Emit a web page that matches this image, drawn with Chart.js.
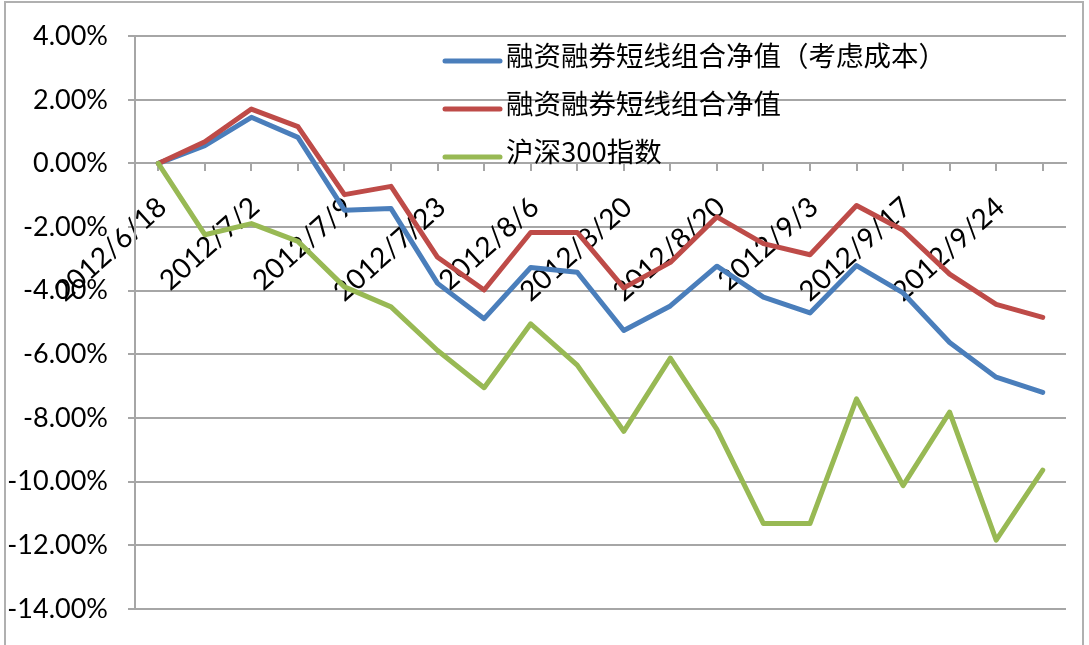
<!DOCTYPE html>
<html>
<head>
<meta charset="utf-8">
<script src="https://cdn.jsdelivr.net/npm/chart.js@4/dist/chart.umd.min.js"></script>
<style>
    body { margin: 0; background: #fff; }
    #wrap { width: 1089px; height: 645px; position: relative; }
</style>
</head>
<body>
<div id="wrap"><canvas id="navChart"></canvas></div>
<script>
// 日期（每隔一个显示）
const categories = ['2012/6/18', '2012/6/25', '2012/7/2', '2012/7/6', '2012/7/9', '2012/7/16',
    '2012/7/23', '2012/7/30', '2012/8/6', '2012/8/13', '2012/8/20', '2012/8/20', '2012/8/20',
    '2012/8/27', '2012/9/3', '2012/9/10', '2012/9/17', '2012/9/21', '2012/9/24', '2012/9/28'];

const seriesNames = ['融资融券短线组合净值（考虑成本）', '融资融券短线组合净值', '沪深300指数'];

// 单位：%
const navWithCost = [0, 0.56, 1.45, 0.82, -1.47, -1.42, -3.77, -4.88, -3.27, -3.42,
    -5.25, -4.48, -3.23, -4.20, -4.70, -3.21, -4.07, -5.63, -6.72, -7.20];
const navNoCost = [0, 0.68, 1.71, 1.16, -0.98, -0.72, -2.95, -3.98, -2.17, -2.17,
    -3.91, -3.11, -1.68, -2.52, -2.87, -1.32, -2.10, -3.48, -4.43, -4.84];
const hs300 = [0, -2.24, -1.89, -2.45, -3.88, -4.51, -5.88, -7.05, -5.04, -6.34,
    -8.42, -6.12, -8.36, -11.32, -11.32, -7.40, -10.13, -7.82, -11.84, -9.64];

const yTicks = [4, 2, 0, -2, -4, -6, -8, -10, -12, -14];

const colors = ['#4a7ebb', '#be4b48', '#98b954'];
const gridColor = '#a6a6a6';

Chart.defaults.font.family = 'Lato, "Noto Sans CJK SC", sans-serif';
Chart.defaults.color = '#000';

// 外框
const framePlugin = {
    id: 'frame',
    beforeDraw(chart) {
        const ctx = chart.ctx;
        ctx.save();
        ctx.fillStyle = '#fff';
        ctx.fillRect(0, 0, chart.width, chart.height);
        ctx.strokeStyle = '#b0b0b0';
        ctx.lineWidth = 2;
        ctx.strokeRect(5, 2, 1078, 700);
        ctx.restore();
    }
};

// 图内图例
const legendPlugin = {
    id: 'innerLegend',
    afterDraw(chart) {
        const ctx = chart.ctx;
        ctx.save();
        ctx.font = '27.5px "Noto Sans CJK SC", sans-serif';
        ctx.textBaseline = 'middle';
        ctx.lineCap = 'round';
        seriesNames.forEach((name, i) => {
            const y = 61 + i * 48;
            ctx.strokeStyle = colors[i];
            ctx.lineWidth = 5;
            ctx.beginPath();
            ctx.moveTo(445, y);
            ctx.lineTo(500, y);
            ctx.stroke();
            ctx.fillStyle = '#000';
            ctx.fillText(name, 506, y - 5);
        });
        ctx.restore();
    }
};

const makeSet = (label, data, color, order) => ({
    label: label,
    data: data,
    borderColor: color,
    backgroundColor: color,
    borderWidth: 5,
    pointRadius: 0,
    borderCapStyle: 'round',
    borderJoinStyle: 'round',
    tension: 0,
    order: order
});

const ctx = document.getElementById('navChart').getContext('2d');
new Chart(ctx, {
    type: 'line',
    data: {
        labels: categories,
        datasets: [
            makeSet(seriesNames[0], navWithCost, colors[0], 3),
            makeSet(seriesNames[1], navNoCost, colors[1], 2),
            makeSet(seriesNames[2], hs300, colors[2], 1)
        ]
    },
    options: {
        responsive: true,
        maintainAspectRatio: false,
        animation: false,
        layout: { padding: { left: 0, right: 23, top: 32, bottom: 33 } },
        plugins: {
            legend: { display: false },
            tooltip: { enabled: false }
        },
        scales: {
            x: {
                position: { y: 0 },
                offset: true,
                // 标签不挤占绘图区
                afterFit: (scale) => {
                    scale.paddingLeft = 0;
                    scale.paddingRight = 0;
                },
                grid: {
                    drawOnChartArea: false,
                    drawTicks: true,
                    tickLength: 7,
                    color: gridColor,
                    lineWidth: 2
                },
                border: { color: gridColor, width: 2 },
                ticks: {
                    autoSkip: false,
                    minRotation: 42,
                    maxRotation: 42,
                    padding: 20,
                    labelOffset: 4,
                    font: { size: 28 },
                    callback: (v, i) => (i % 2 === 0 ? categories[i] : '')
                }
            },
            y: {
                min: -14,
                max: 4,
                afterFit: (scale) => { scale.width = 135; },
                afterBuildTicks: (scale) => {
                    scale.ticks = yTicks.map(v => ({ value: v }));
                },
                grid: {
                    color: gridColor,
                    lineWidth: 2,
                    tickLength: 7
                },
                border: { color: gridColor, width: 2 },
                ticks: {
                    padding: 20,
                    font: { size: 27 },
                    callback: (v) => v.toFixed(2) + '%'
                }
            }
        }
    },
    plugins: [framePlugin, legendPlugin]
});
</script>
</body>
</html>
